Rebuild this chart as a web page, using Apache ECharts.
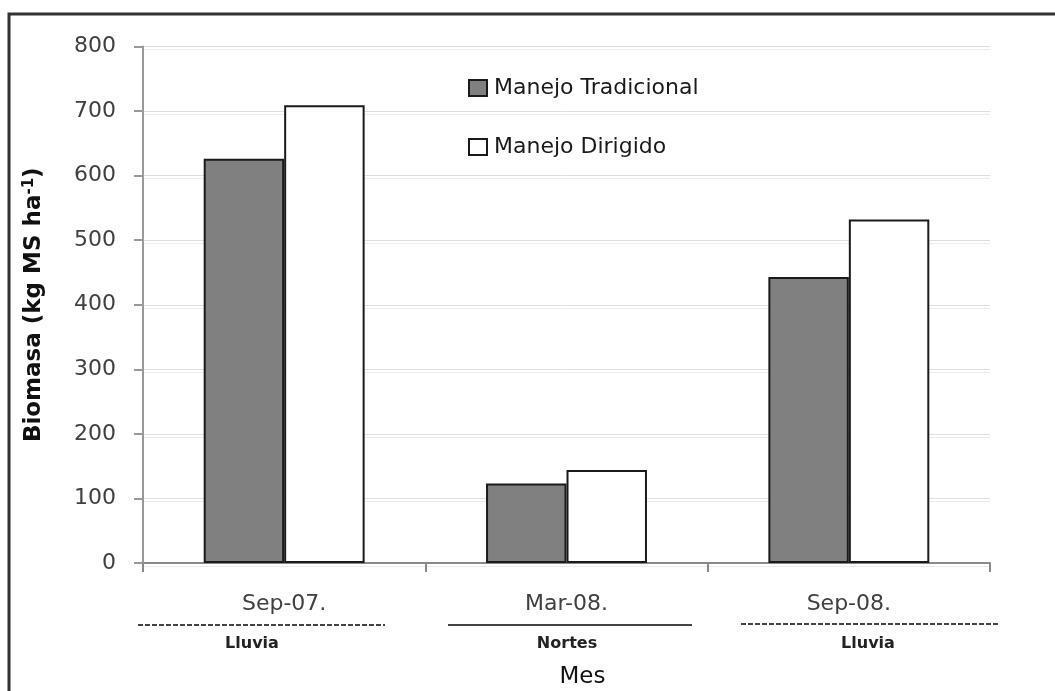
<!DOCTYPE html>
<html>
<head>
<meta charset="utf-8">
<script src="https://cdn.jsdelivr.net/npm/echarts@6/dist/echarts.min.js"></script>
<style>
  html, body { margin: 0; padding: 0; background: #fff; }
  #chart { width: 1055px; height: 691px; }
</style>
</head>
<body>
<div id="chart"></div>
<script>
// Biomass per sampling month under two management regimes
const categories = ['Sep-07.', 'Mar-08.', 'Sep-08.'];
const seasons = ['Lluvia', 'Nortes', 'Lluvia'];
const tradicional = [626, 123, 443];
const dirigido = [709, 144, 532];
const yTicks = { min: 0, max: 800, interval: 100 };

const FONT = 'DejaVu Sans';
const chart = echarts.init(document.getElementById('chart'));

// Season underline styles under each month
const seasonLines = [
  { x1: 138, x2: 385, y: 625, dash: [5, 2], width: 2 },
  { x1: 448, x2: 692, y: 625, dash: null, width: 2 },
  { x1: 741, x2: 1000, y: 624, dash: [5, 2], width: 2 }
];
const seasonLabelX = [252, 567, 868];

const graphics = [
  {
    type: 'rect',
    shape: { x: 9, y: 14, width: 1120, height: 720 },
    style: { fill: 'none', stroke: '#333', lineWidth: 3 },
    silent: true
  }
];
seasonLines.forEach(function (l, i) {
  graphics.push({
    type: 'line',
    shape: { x1: l.x1, y1: l.y, x2: l.x2, y2: l.y },
    style: { stroke: '#444', lineWidth: l.width, lineDash: l.dash || null },
    silent: true
  });
  graphics.push({
    type: 'text',
    x: seasonLabelX[i],
    y: 644,
    style: {
      text: seasons[i],
      font: 'bold 16px "' + FONT + '"',
      fill: '#222',
      textAlign: 'center',
      textVerticalAlign: 'middle'
    },
    silent: true
  });
});

chart.setOption({
  animation: false,
  backgroundColor: '#fff',
  textStyle: { fontFamily: FONT },
  grid: { left: 143, right: 65, top: 46.5, bottom: 128, containLabel: false, outerBoundsMode: 'none' },
  legend: {
    orient: 'vertical',
    left: 468,
    top: 77,
    padding: 0,
    itemWidth: 18,
    itemHeight: 16,
    itemGap: 37,
    icon: 'rect',
    textStyle: { fontFamily: FONT, fontSize: 22, color: '#1a1a1a', lineHeight: 22, padding: [0, 0, 0, 2] },
    data: ['Manejo Tradicional', 'Manejo Dirigido']
  },
  xAxis: {
    type: 'category',
    data: categories,
    boundaryGap: true,
    axisLine: { lineStyle: { color: '#8a8a8a', width: 2 } },
    axisTick: { show: true, length: 9, lineStyle: { color: '#8a8a8a', width: 2 } },
    axisLabel: { fontFamily: FONT, fontSize: 22, color: '#404040', margin: 30 },
    name: 'Mes',
    nameLocation: 'middle',
    nameGap: 103,
    nameTextStyle: { fontFamily: FONT, fontSize: 23, color: '#111', padding: [0, 0, 0, 32] }
  },
  yAxis: {
    type: 'value',
    min: yTicks.min,
    max: yTicks.max,
    interval: yTicks.interval,
    axisLine: { show: true, lineStyle: { color: '#999', width: 2 } },
    axisTick: { show: true, length: 9, lineStyle: { color: '#999', width: 2 } },
    axisLabel: { fontFamily: FONT, fontSize: 22, color: '#404040', margin: 27 },
    splitLine: {
      lineStyle: { color: '#dedede', width: 1, shadowColor: '#ececec', shadowOffsetY: 3, shadowBlur: 0 }
    },
    name: '{t|Biomasa (kg MS ha}{s|-1}{t|)}',
    nameLocation: 'middle',
    nameRotate: 90,
    nameGap: 96,
    nameTextStyle: {
      rich: {
        t: { fontFamily: FONT, fontSize: 23, fontWeight: 'bold', color: '#111' },
        s: { fontFamily: FONT, fontSize: 15, fontWeight: 'bold', color: '#111', verticalAlign: 'top', padding: [0, 0, 10, 0] }
      }
    }
  },
  series: [
    {
      name: 'Manejo Tradicional',
      type: 'bar',
      data: tradicional,
      barGap: '0%',
      barCategoryGap: '43%',
      itemStyle: { color: '#808080', borderColor: '#1a1a1a', borderWidth: 2 }
    },
    {
      name: 'Manejo Dirigido',
      type: 'bar',
      data: dirigido,
      barGap: '0%',
      barCategoryGap: '43%',
      itemStyle: { color: '#ffffff', borderColor: '#1a1a1a', borderWidth: 2 }
    }
  ],
  graphic: graphics
});
</script>
</body>
</html>
